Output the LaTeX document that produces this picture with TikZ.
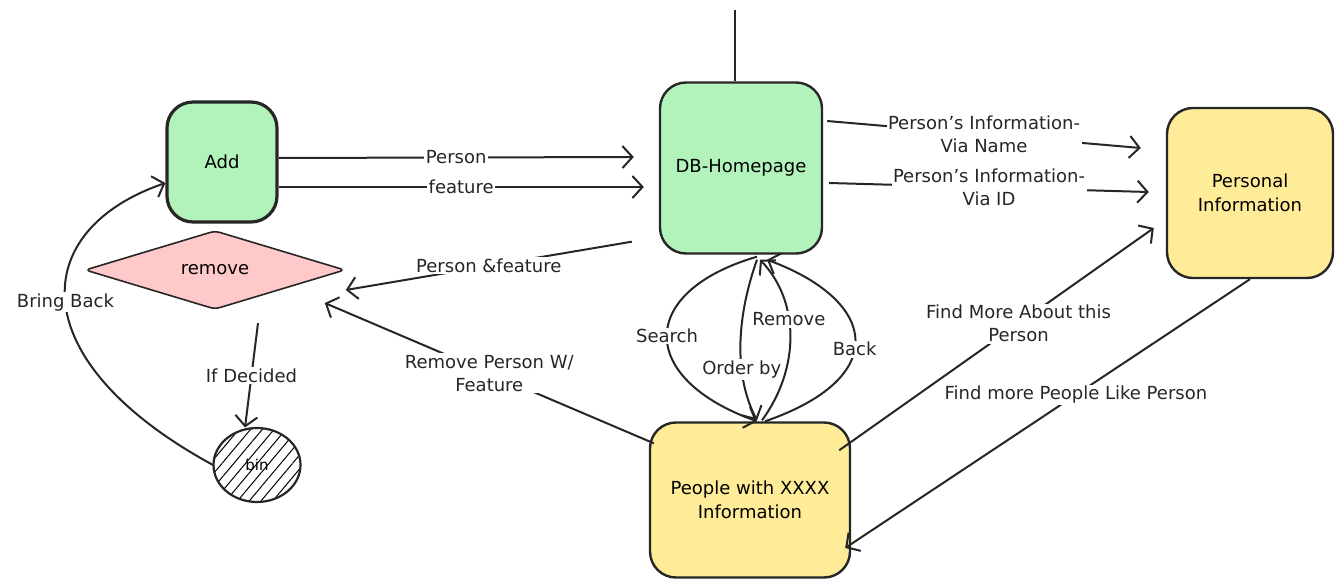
\documentclass[tikz,border=0pt]{standalone}
\usepackage{fontspec}
\setmainfont{DejaVu Sans}
\usetikzlibrary{shapes,arrows,positioning,calc}
\usetikzlibrary{arrows.meta,patterns.meta}

\definecolor{boxgreen}{HTML}{B2F2BB}
\definecolor{boxyellow}{HTML}{FFEC99}
\definecolor{boxred}{HTML}{FFC9C9}

\tikzset{
  box/.style={draw=black!85, line width=2.4pt, rounded corners=26pt, align=center,
    font=\fontsize{18}{24}\selectfont},
  flow/.style={-{Straight Barb[length=10pt,width=22pt,line width=2pt]}, line width=2pt, black!85},
  lbl/.style={fill=white, inner sep=1.5pt, align=center, font=\fontsize{18}{23}\selectfont},
}

\begin{document}
\begin{tikzpicture}[x=1pt,y=-1pt]
  \useasboundingbox (0,0) rectangle (1342,588);

  % boxes
  \node[box, fill=boxgreen, line width=3.2pt, minimum width=110pt, minimum height=120pt] (add) at (222,162) {Add};
  \node[box, fill=boxgreen, minimum width=162pt, minimum height=171pt] (db) at (741,168) {DB-Homepage};
  \node[box, fill=boxyellow, minimum width=166pt, minimum height=170pt] (info) at (1250,193) {Personal\\Information};
  \node[box, fill=boxyellow, minimum width=200pt, minimum height=155pt] (people) at (750,500) {People with XXXX\\Information};
  \node[diamond, draw=black!85, fill=boxred, line width=1.6pt, rounded corners=5pt, inner sep=0pt,
    minimum width=260pt, minimum height=68pt, font=\fontsize{18}{23}\selectfont] (remove) at (215,270) {remove};
  \node[ellipse, draw=black!85, line width=2.2pt, minimum width=87pt, minimum height=74pt,
    pattern={Lines[angle=50,distance=9pt,line width=1pt]}, font=\fontsize{15}{18}\selectfont] (bin) at (257,465) {bin};

  \coordinate (top) at (735,10);
  \draw[line width=2.2pt, black!85] (top) -- (top |- db.north);

  % add / remove
  \draw[flow] ([yshift=4pt]add.east) -- node[lbl]{Person} ([xshift=-25pt,yshift=11pt]db.west);
  \draw[flow] ([yshift=-25pt]add.east) -- node[lbl]{feature} ([xshift=-15pt,yshift=-19pt]db.west);
  \draw[flow] ([xshift=-27pt,yshift=13pt]db.south west) -- node[lbl]{Person \&feature} ([yshift=-20pt]remove.east);
  \draw[flow] ([xshift=5pt,yshift=-22pt]people.north west) -- node[lbl]{Remove Person W/\\Feature} ([xshift=-21pt,yshift=-33pt]remove.east);
  \draw[flow] ([xshift=43pt,yshift=-13pt]remove.south) -- node[lbl]{If Decided} ([xshift=-12pt]bin.north);
  \draw[flow] (bin.west) .. controls +(-193,-105) and +(-137,47) .. node[lbl,pos=0.5]{Bring Back} ([yshift=-21pt]add.west);

  % personal information
  \draw[flow] ([xshift=4pt,yshift=47pt]db.east) -- node[lbl]{Person's Information-\\Via Name} ([xshift=-25pt,yshift=45pt]info.west);
  \draw[flow] ([xshift=6pt,yshift=-15pt]db.east) -- node[lbl]{Person's Information-\\Via ID} ([xshift=-17pt,yshift=1pt]info.west);
  \draw[flow] ([xshift=-12pt,yshift=-29pt]people.north east) -- node[lbl,pos=0.57]{Find More About this\\Person} ([xshift=-12pt,yshift=-35pt]info.west);
  \draw[flow] (info.south) -- node[lbl,pos=0.43]{Find more People Like Person} ([xshift=-6pt,yshift=-48pt]people.east);

  % homepage <-> people
  \draw[flow] ([xshift=16pt,yshift=-2pt]db.south) .. controls +(-120,35) and +(-120,-43) .. node[lbl,pos=0.5]{Search} ([xshift=7pt]people.north);
  \draw[flow] ([xshift=16pt,yshift=-5pt]db.south) .. controls +(-22,62) and +(-22,-42) .. node[lbl,pos=0.64]{Order by} ([xshift=7pt,yshift=1pt]people.north);
  \draw[flow] ([xshift=12pt,yshift=1pt]people.north) .. controls +(38,-52) and +(40,42) .. node[lbl,pos=0.6]{Remove} ([xshift=19pt,yshift=-5pt]db.south);
  \draw[flow] ([xshift=15pt]people.north) .. controls +(125,-43) and +(113,42) .. node[lbl,pos=0.45]{Back} ([xshift=26pt,yshift=-5pt]db.south);
\end{tikzpicture}
\end{document}
